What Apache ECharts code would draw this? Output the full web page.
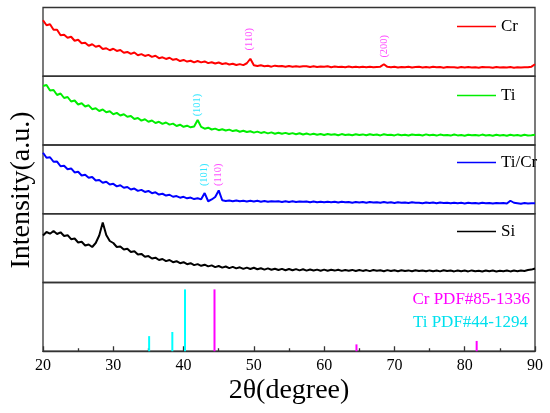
<!DOCTYPE html>
<html><head><meta charset="utf-8">
<script src="https://cdn.jsdelivr.net/npm/echarts@6/dist/echarts.min.js"></script>
<style>html,body{margin:0;padding:0;background:#fff}#c{width:550px;height:413px}</style>
</head><body><div id="c"></div>
<script>
// 2θ sampling grid (degrees)
const twoTheta = [
20,20.5,21,21.5,22,22.5,23,23.5,24,24.5,
25,25.5,26,26.5,27,27.5,28,28.5,29,29.5,
30,30.5,31,31.5,32,32.5,33,33.5,34,34.5,
35,35.5,36,36.5,37,37.5,38,38.5,39,39.5,
40,40.5,41,41.5,42,42.5,43,43.5,44,44.5,
45,45.5,46,46.5,47,47.5,48,48.5,49,49.5,
50,50.5,51,51.5,52,52.5,53,53.5,54,54.5,
55,55.5,56,56.5,57,57.5,58,58.5,59,59.5,
60,60.5,61,61.5,62,62.5,63,63.5,64,64.5,
65,65.5,66,66.5,67,67.5,68,68.5,69,69.5,
70,70.5,71,71.5,72,72.5,73,73.5,74,74.5,
75,75.5,76,76.5,77,77.5,78,78.5,79,79.5,
80,80.5,81,81.5,82,82.5,83,83.5,84,84.5,
85,85.5,86,86.5,87,87.5,88,88.5,89,89.5,
90];

// intensities (arbitrary units)
const crIntensity = [
56,51,52,46.5,46.5,41,41.5,38.5,39.5,35.5,
36.5,33,33.5,30.5,32,29.5,30.5,27.3,28,26,
27.5,25.3,26.2,23.5,24.3,22.4,23.7,21,22.1,20.3,
21.4,19.4,20.5,18.1,18.9,17.3,18.5,16.4,17.2,15.2,
16.3,14.7,15.5,13.9,15.2,13.9,14.8,13.1,14,12.7,
13.7,12.3,13.1,11.7,12.5,11.2,12.1,11.1,13,17.5,
11,10.2,10.9,10.1,10.4,9.6,10.6,9.9,10.2,9.5,
10.3,9.6,10.1,9.4,9.9,10.1,9.3,9.9,9.2,9.8,
9.4,9.9,9.1,9.7,9.2,9.6,9.0,9.7,9.1,9.5,
9.0,9.6,9.1,9.4,8.9,9.3,9.6,12,9.4,8.9,
9.5,8.8,9.3,9.0,9.5,8.7,9.2,9.4,8.7,9.2,
8.8,9.4,8.9,9.2,8.6,9.3,8.9,9.1,8.6,9.2,
8.7,9.2,8.8,9.1,8.5,9.2,8.9,9.0,8.6,9.3,
8.7,9.1,8.8,9.2,8.6,9.0,8.7,9.1,9.0,9.6,
12];

const tiIntensity = [
59,60,54.5,55,50,51.5,47,48,43.5,44.5,
40.5,41.7,38.5,39.7,35.8,36.8,34,35.5,32.7,33.7,
30.8,32.1,29.5,30.8,28.2,29,26,27,24.4,25.7,
23.2,24.5,22,23.2,21.1,22.5,20.4,21.4,19,20.3,
18.2,19.3,17.7,18.5,25,18.1,16.3,17.3,15.5,16.4,
14.8,15.8,14.5,15.4,13.9,14.7,13.3,14.3,13,13.8,
12.4,13.4,12.1,12.9,11.6,12.6,11.3,12.3,11.2,12.1,
11,11.9,10.8,11.7,10.5,11.5,10.4,11.3,10.3,11,
10,11,10.2,10.8,9.8,10.9,10.1,10.6,9.8,10.7,
9.9,10.6,9.7,10.8,10,10.4,9.6,10.7,9.9,10.3,
9.6,10.6,9.8,10.3,9.5,10.5,9.9,10.2,9.5,10.6,
9.7,10.2,9.4,10.4,9.8,10.1,9.4,10.5,9.6,10,
9.3,10.3,9.7,10.1,9.4,10.4,9.6,9.9,9.3,10.2,
9.5,10.1,9.3,10.3,9.6,9.9,9.2,10.2,9.5,9.8,
10.3];

const tiCrIntensity = [
61,56,56.5,52,52.2,47.5,48,44.5,45.3,41.3,
42,38.3,39,35.9,36.7,33.2,33.8,31,32,29.2,
29.9,27.4,28.5,26,26.8,24.2,25.2,22.9,23.9,21.8,
22.8,20.6,21.4,19.2,20,18.2,19,17,17.7,16.1,
16.9,15.4,16.2,14.7,15.5,14.4,20.7,12.5,14.3,16.8,
23.3,13.5,12.8,13.3,12.5,13.2,12.4,13,12.3,12.9,
12.2,12.9,12.1,12.7,11.9,12.6,12.2,12.5,11.8,12.6,
11.8,12.4,11.7,12.3,11.9,12.2,11.5,12.3,11.6,12.1,
11.4,12,11.6,11.9,11.2,12,11.4,11.7,11.1,11.8,
11.2,11.7,11,11.8,11.3,11.5,10.9,11.7,11.1,11.4,
10.8,11.5,11,11.3,10.7,11.4,10.9,11.1,10.6,11.3,
10.7,11.2,10.5,11.2,10.8,11,10.4,11.1,10.6,10.9,
10.3,11,10.6,10.8,10.2,10.9,10.5,10.7,10.2,10.8,
10.4,10.7,10.2,13,11,10.6,10.1,10.7,10.3,10.6,
10.4];

const siIntensity = [
47,50.5,48.8,51.5,48.5,50.2,46.5,47.3,43.3,44,
40,40.7,37,38,35.5,39.5,47,60,47.5,41.5,
39.5,35.5,36.1,33.1,33.8,30.5,31.2,28,28.6,25.8,
26.4,24,24.8,22.5,23.5,21.4,22.5,20.3,21.3,19.3,
20.3,18.3,19.3,17.4,18.4,16.7,17.8,16.1,17.1,15.4,
16.5,14.9,16,14.4,15.6,14.1,15.2,13.6,14.9,13.5,
14.7,13.3,14.3,12.9,14.1,12.7,13.8,12.5,13.6,12.3,
13.5,12.2,13.4,12.1,13.2,11.9,13,12,12.9,11.8,
12.9,11.7,12.7,11.9,12.8,11.6,12.5,11.8,12.6,11.5,
12.5,11.6,12.4,11.4,12.5,11.7,12.2,11.3,12.4,11.5,
12.2,11.3,12.3,11.5,12.1,11.2,12.2,11.4,12,11.2,
12.1,11.3,12,11.1,12.2,11.4,11.9,11.1,12,11.2,
11.9,11.1,12.1,11.3,11.8,11,12,11.2,11.9,11.1,
11.8,11.2,12,11.1,11.9,11.3,12.1,11.6,12.4,12.9,
14];

// standard PDF reference lines (2θ, relative intensity %)
const crPdfPos = [44.4, 64.6, 81.7];
const crPdfRel = [90, 10, 15];
const tiPdfPos = [35.1, 38.4, 40.2];
const tiPdfRel = [22, 28, 90];

// x-axis ticks
const xTickMin = 20, xTickMax = 90, xTickStep = 10;

// peak indexing labels
const crPeakText = ['(110)', '(200)'];
const crPeakPos = [49.3, 68.5];
const tiPeakText = ['(101)'];
const tiPeakPos = [41.9];
const tiCrPeakText = ['(101)', '(110)'];
const tiCrPeakPos = [42.9, 44.9];

const seriesNames = ['Cr', 'Ti', 'Ti/Cr', 'Si'];
const pdfNames = ['Cr PDF#85-1336', 'Ti PDF#44-1294'];

const chart = echarts.init(document.getElementById('c'));
const FONT = 'Liberation Serif';
const MAG = '#ff22ff', CYAN = '#00e0ff';
const panelTops = [7.5, 76.25, 145, 213.75, 282.5];
const PANEL_H = 68.75;
const curves = [crIntensity, tiIntensity, tiCrIntensity, siIntensity];
const colors = ['#ff0000', '#00ee00', '#0000ff', '#000000'];
const legendTops = [13, 82, 149, 218];

const grids = panelTops.map(t => ({left: 43, width: 492, top: t, height: PANEL_H, show: true,
  borderColor: '#333', borderWidth: 1.3, backgroundColor: 'transparent'}));

const xAxes = panelTops.map((t, i) => {
  if (i < 4) return {gridIndex: i, type: 'value', min: xTickMin, max: xTickMax, show: false};
  return {gridIndex: i, type: 'value', min: xTickMin, max: xTickMax, interval: xTickStep,
    axisLine: {show: true, lineStyle: {color: '#333', width: 1.3}},
    axisTick: {show: true, inside: true, length: 5, lineStyle: {color: '#333', width: 1.3}},
    minorTick: {show: true, splitNumber: 2, length: 3, lineStyle: {color: '#333', width: 1.3}},
    splitLine: {show: false}, minorSplitLine: {show: false},
    axisLabel: {color: '#000', fontSize: 16, fontFamily: FONT, margin: 7},
    name: '2θ(degree)', nameLocation: 'middle', nameGap: 25,
    nameTextStyle: {fontSize: 28, color: '#000', fontFamily: FONT}};
});
const yAxes = panelTops.map((t, i) => ({gridIndex: i, type: 'value', min: 0,
  max: i === 4 ? 100 : PANEL_H, show: false}));

const series = [];
curves.forEach((arr, i) => {
  series.push({name: seriesNames[i], type: 'line', xAxisIndex: i, yAxisIndex: i,
    data: twoTheta.map((x, k) => [x, arr[k]]), showSymbol: false, symbol: 'none',
    lineStyle: {color: colors[i], width: 2}, itemStyle: {color: colors[i]}, silent: true});
});
function labelSeries(panel, texts, xs, ys, color) {
  return {type: 'scatter', xAxisIndex: panel, yAxisIndex: panel, symbol: 'circle', symbolSize: 1,
    itemStyle: {color: 'rgba(0,0,0,0)'}, silent: true,
    data: xs.map((x, k) => ({value: [x, ys[k]], label: {formatter: texts[k], color: color[k]}})),
    label: {show: true, position: 'inside', rotate: 90, fontSize: 10.5, fontFamily: FONT,
      align: 'center', verticalAlign: 'middle'}};
}
series.push(labelSeries(0, crPeakText, crPeakPos, [37, 30], [MAG, MAG]));
series.push(labelSeries(1, tiPeakText, tiPeakPos, [40], [CYAN]));
series.push(labelSeries(2, tiCrPeakText, tiCrPeakPos, [39, 39], [CYAN, MAG]));

series.push({name: pdfNames[0], type: 'bar', xAxisIndex: 4, yAxisIndex: 4, barWidth: 2, barGap: '-100%',
  data: crPdfPos.map((x, k) => [x, crPdfRel[k]]), itemStyle: {color: '#ff00ff'}, silent: true});
series.push({name: pdfNames[1], type: 'bar', xAxisIndex: 4, yAxisIndex: 4, barWidth: 2, barGap: '-100%',
  data: tiPdfPos.map((x, k) => [x, tiPdfRel[k]]), itemStyle: {color: '#00ffff'}, silent: true});

const legends = seriesNames.map((n, i) => ({data: [n], left: 452, top: legendTops[i], icon: 'rect',
  itemWidth: 39, itemHeight: 1.5, selectedMode: false,
  textStyle: {fontSize: 17, fontFamily: FONT, color: '#000'}}));

chart.setOption({
  animation: false,
  backgroundColor: '#fff',
  grid: grids, xAxis: xAxes, yAxis: yAxes, series: series, legend: legends,
  graphic: [
    {type: 'text', x: 22, y: 190, rotation: Math.PI / 2,
      style: {text: 'Intensity(a.u.)', fill: '#000', font: '28px "Liberation Serif"',
        align: 'center', verticalAlign: 'middle', textAlign: 'center', textVerticalAlign: 'middle'}},
    {type: 'text', x: 530, y: 300,
      style: {text: pdfNames[0], fill: '#ff00ff', font: '17px "Liberation Serif"',
        align: 'right', verticalAlign: 'middle', textAlign: 'right', textVerticalAlign: 'middle'}},
    {type: 'text', x: 528, y: 323,
      style: {text: pdfNames[1], fill: '#00e0ee', font: '17px "Liberation Serif"',
        align: 'right', verticalAlign: 'middle', textAlign: 'right', textVerticalAlign: 'middle'}}
  ]
});
</script></body></html>
